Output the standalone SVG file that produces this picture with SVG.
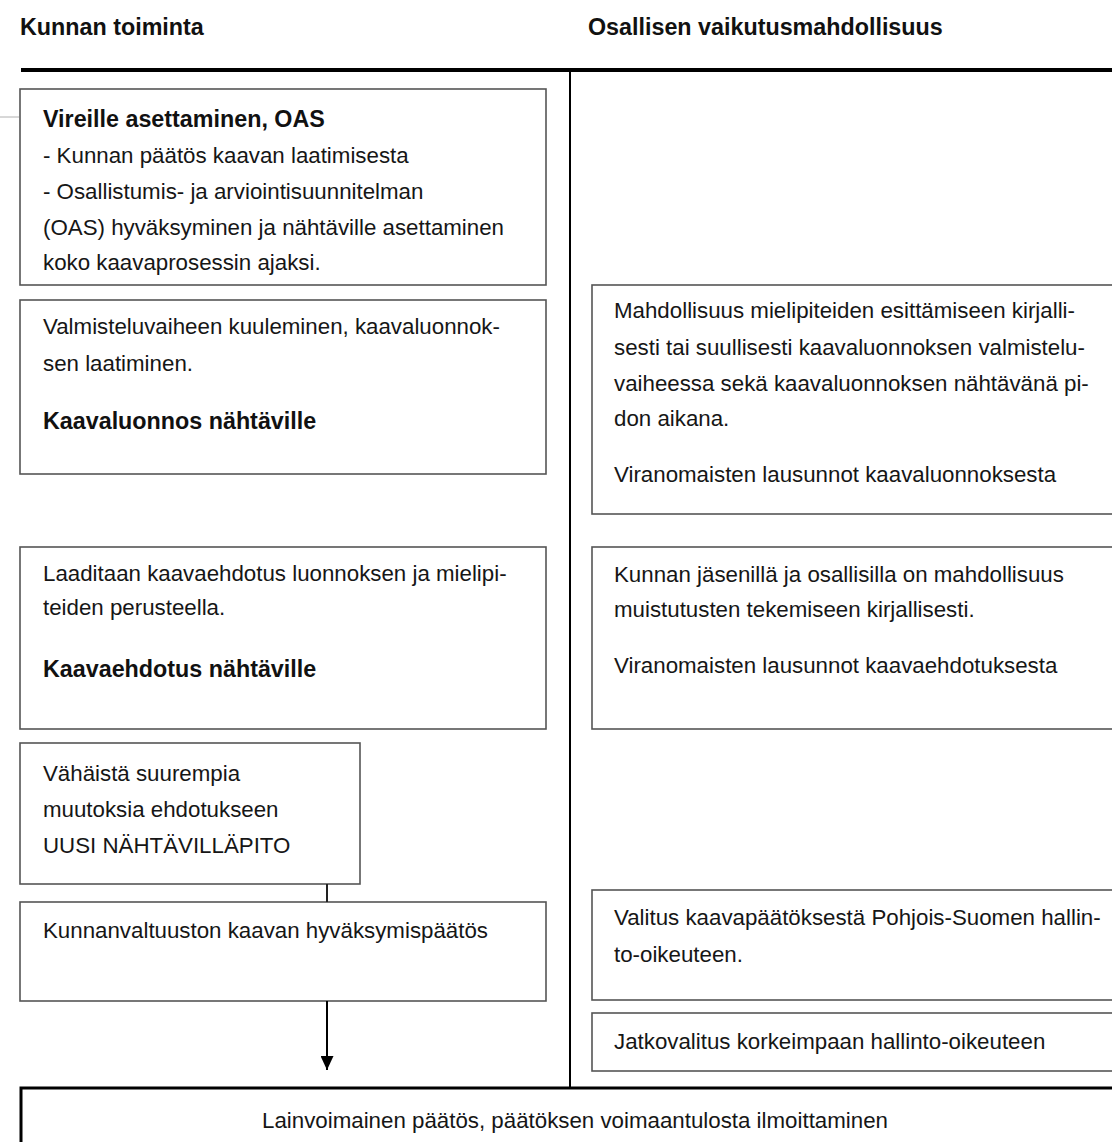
<svg xmlns="http://www.w3.org/2000/svg" width="1112" height="1142" viewBox="0 0 1112 1142">
<style>
.box{fill:#fff;stroke:#555;stroke-width:1.6}
.t{font-family:"Liberation Sans",Arial,sans-serif;font-size:22.3px;fill:#161616}
.b{font-family:"Liberation Sans",Arial,sans-serif;font-size:23.3px;font-weight:bold;fill:#111}
.rule{stroke:#000;fill:none}
</style>
<defs>
<marker id="arr" markerUnits="userSpaceOnUse" markerWidth="14" markerHeight="13" refX="14" refY="6.5" orient="auto" viewBox="0 0 14 13">
<path d="M0,0 L14,6.5 L0,13 Z" fill="#000"/>
</marker>
</defs>
<rect width="1112" height="1142" fill="#fff"/>
<line x1="0" y1="117" x2="19" y2="117" stroke="#b0b0b0" stroke-width="1"/>
<g id="headers">
<text class="b" x="20" y="35">Kunnan toiminta</text>
<text class="b" x="588" y="35">Osallisen vaikutusmahdollisuus</text>
</g>
<g id="frame">
<line class="rule" x1="21" y1="70" x2="1112" y2="70" stroke-width="4"/>
<line class="rule" x1="570" y1="72" x2="570" y2="1088" stroke-width="2"/>
</g>
<g id="n1">
<rect class="box" x="20" y="89" width="526" height="196"/>
<text class="b" x="43" y="127">Vireille asettaminen, OAS</text>
<text class="t" x="43" y="163">- Kunnan päätös kaavan laatimisesta</text>
<text class="t" x="43" y="199">- Osallistumis- ja arviointisuunnitelman</text>
<text class="t" x="43" y="235">(OAS) hyväksyminen ja nähtäville asettaminen</text>
<text class="t" x="43" y="270">koko kaavaprosessin ajaksi.</text>
</g>
<g id="n2">
<rect class="box" x="20" y="300" width="526" height="174"/>
<text class="t" x="43" y="334">Valmisteluvaiheen kuuleminen, kaavaluonnok-</text>
<text class="t" x="43" y="371">sen laatiminen.</text>
<text class="b" x="43" y="429">Kaavaluonnos nähtäville</text>
</g>
<g id="n3">
<rect class="box" x="20" y="547" width="526" height="182"/>
<text class="t" x="43" y="581">Laaditaan kaavaehdotus luonnoksen ja mielipi-</text>
<text class="t" x="43" y="615">teiden perusteella.</text>
<text class="b" x="43" y="677">Kaavaehdotus nähtäville</text>
</g>
<g id="n4">
<rect class="box" x="20" y="743" width="340" height="141"/>
<text class="t" x="43" y="781">Vähäistä suurempia</text>
<text class="t" x="43" y="817">muutoksia ehdotukseen</text>
<text class="t" x="43" y="853">UUSI NÄHTÄVILLÄPITO</text>
</g>
<g id="n5">
<rect class="box" x="20" y="902" width="526" height="99"/>
<text class="t" x="43" y="938">Kunnanvaltuuston kaavan hyväksymispäätös</text>
</g>
<g id="r1">
<rect class="box" x="592" y="285" width="530" height="229"/>
<text class="t" x="614" y="318">Mahdollisuus mielipiteiden esittämiseen kirjalli-</text>
<text class="t" x="614" y="355">sesti tai suullisesti kaavaluonnoksen valmistelu-</text>
<text class="t" x="614" y="391">vaiheessa sekä kaavaluonnoksen nähtävänä pi-</text>
<text class="t" x="614" y="426">don aikana.</text>
<text class="t" x="614" y="482">Viranomaisten lausunnot kaavaluonnoksesta</text>
</g>
<g id="r2">
<rect class="box" x="592" y="547" width="530" height="182"/>
<text class="t" x="614" y="582">Kunnan jäsenillä ja osallisilla on mahdollisuus</text>
<text class="t" x="614" y="617">muistutusten tekemiseen kirjallisesti.</text>
<text class="t" x="614" y="673">Viranomaisten lausunnot kaavaehdotuksesta</text>
</g>
<g id="r3">
<rect class="box" x="592" y="890" width="530" height="110"/>
<text class="t" x="614" y="925">Valitus kaavapäätöksestä Pohjois-Suomen hallin-</text>
<text class="t" x="614" y="962">to-oikeuteen.</text>
</g>
<g id="r4">
<rect class="box" x="592" y="1013" width="530" height="58"/>
<text class="t" x="614" y="1049">Jatkovalitus korkeimpaan hallinto-oikeuteen</text>
</g>
<g id="n6">
<rect x="21" y="1088" width="1100" height="70" fill="#fff" stroke="#000" stroke-width="3"/>
<text class="t" x="575" y="1128" text-anchor="middle">Lainvoimainen päätös, päätöksen voimaantulosta ilmoittaminen</text>
</g>
<g id="connectors">
<line x1="327" y1="884" x2="327" y2="902" stroke="#222" stroke-width="2"/>
<line x1="327" y1="1001" x2="327" y2="1070" stroke="#000" stroke-width="2" marker-end="url(#arr)"/>
</g>
</svg>
